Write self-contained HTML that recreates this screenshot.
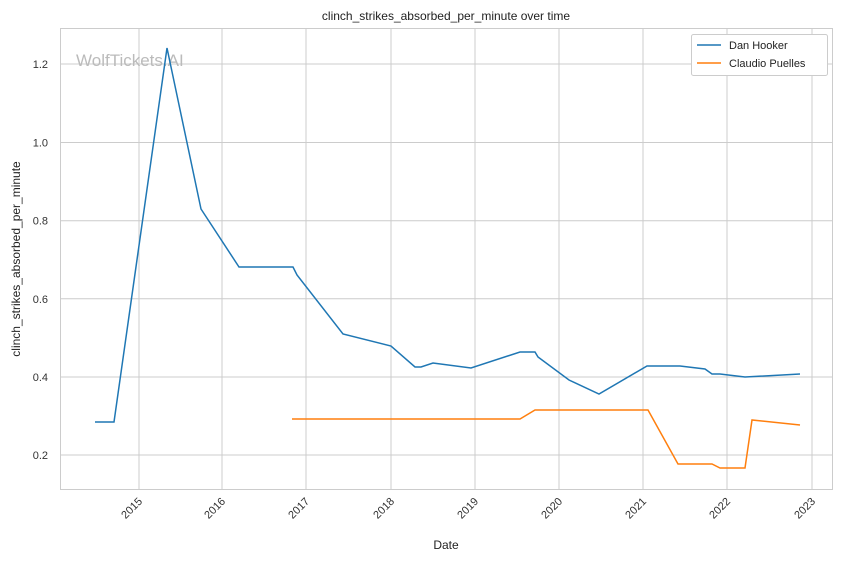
<!DOCTYPE html>
<html><head><meta charset="utf-8"><style>
body{margin:0;background:#fff;}
svg{font-family:"Liberation Sans","DejaVu Sans",sans-serif;}
</style></head><body>
<svg width="844" height="561" viewBox="0 0 844 561" xmlns="http://www.w3.org/2000/svg">
<rect width="844" height="561" fill="#fff"/>
<g stroke="#cccccc" stroke-width="1">
<line x1="60" x2="833" y1="64" y2="64"/><line x1="60" x2="833" y1="142.5" y2="142.5"/>
<line x1="60" x2="833" y1="220.7" y2="220.7"/><line x1="60" x2="833" y1="298.8" y2="298.8"/>
<line x1="60" x2="833" y1="377" y2="377"/><line x1="60" x2="833" y1="455" y2="455"/>
<line x1="139" x2="139" y1="28" y2="490"/><line x1="222" x2="222" y1="28" y2="490"/>
<line x1="306" x2="306" y1="28" y2="490"/><line x1="391" x2="391" y1="28" y2="490"/>
<line x1="475" x2="475" y1="28" y2="490"/><line x1="559" x2="559" y1="28" y2="490"/>
<line x1="643" x2="643" y1="28" y2="490"/><line x1="727" x2="727" y1="28" y2="490"/>
<line x1="812" x2="812" y1="28" y2="490"/>
</g>
<rect x="60.5" y="28.5" width="772" height="461" fill="none" stroke="#cccccc"/>
<text x="76" y="66" font-size="17" fill="#bbbbbb">WolfTickets.AI</text>
<g font-size="11" fill="#333" text-anchor="end">
<text x="48" y="68">1.2</text><text x="48" y="146.5">1.0</text><text x="48" y="224.7">0.8</text>
<text x="48" y="302.8">0.6</text><text x="48" y="381">0.4</text><text x="48" y="459">0.2</text>
</g>
<g font-size="11" fill="#333" text-anchor="end">
<text transform="translate(143,502) rotate(-45)">2015</text>
<text transform="translate(226,502) rotate(-45)">2016</text>
<text transform="translate(310,502) rotate(-45)">2017</text>
<text transform="translate(395,502) rotate(-45)">2018</text>
<text transform="translate(479,502) rotate(-45)">2019</text>
<text transform="translate(563,502) rotate(-45)">2020</text>
<text transform="translate(647,502) rotate(-45)">2021</text>
<text transform="translate(731,502) rotate(-45)">2022</text>
<text transform="translate(816,502) rotate(-45)">2023</text>
</g>
<text x="446" y="549" font-size="12" fill="#222" text-anchor="middle">Date</text>
<text transform="translate(20,259) rotate(-90)" font-size="12" fill="#222" text-anchor="middle">clinch_strikes_absorbed_per_minute</text>
<text x="446" y="20" font-size="12" fill="#222" text-anchor="middle">clinch_strikes_absorbed_per_minute over time</text>
<polyline fill="none" stroke="#1f77b4" stroke-width="1.5" points="95,422 114,422 167,48 201,209 239,267 293,267 297,275 343,334 391,346 415,367 421,367 433,363 471,368 520,352 535,352 538,357 569,380 599,394 647,366 680,366 705,369 712,374 720,374 745,377 800,374"/>
<polyline fill="none" stroke="#ff7f0e" stroke-width="1.5" points="292,419 520,419 535,410 648,410 678,464 712,464 720,468 745,468 752,420 800,425"/>
<rect x="691.5" y="34.5" width="136" height="41" fill="#fff" stroke="#cccccc" rx="2"/>
<line x1="697" x2="721" y1="45" y2="45" stroke="#1f77b4" stroke-width="1.5"/>
<line x1="697" x2="721" y1="63" y2="63" stroke="#ff7f0e" stroke-width="1.5"/>
<text x="729" y="49" font-size="11" fill="#222">Dan Hooker</text>
<text x="729" y="67" font-size="11" fill="#222">Claudio Puelles</text>
</svg>
</body></html>
